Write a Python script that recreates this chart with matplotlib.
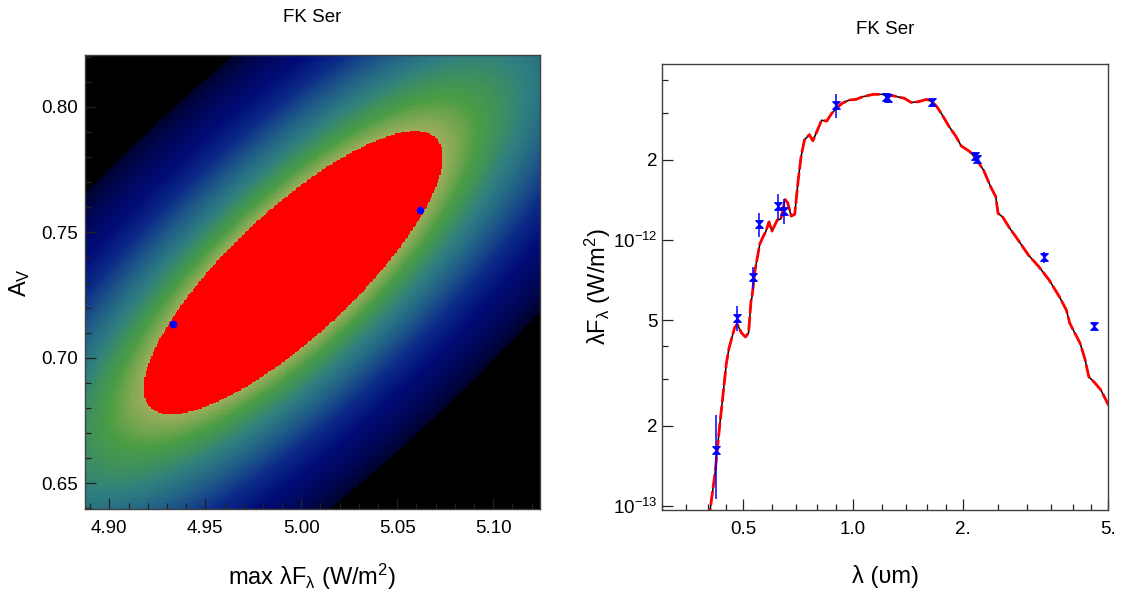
import numpy as np
import matplotlib
matplotlib.use('Agg')
import matplotlib.pyplot as plt
from matplotlib.colors import LinearSegmentedColormap, Normalize
from matplotlib.ticker import FixedLocator, FixedFormatter, NullFormatter

plt.rcParams['font.family'] = ['Liberation Sans', 'DejaVu Sans']
plt.rcParams['mathtext.fontset'] = 'custom'
plt.rcParams['mathtext.rm'] = 'Liberation Sans'
plt.rcParams['mathtext.it'] = 'Liberation Sans:italic'

# --- left panel: chi^2 surface ---
fit_center = [4.9958, 0.7339]      # best max lambda F_lambda, A_V
fit_sigma = [0.0781, 0.05655]      # 1-sigma half widths
fit_rho = 0.817                    # correlation
chi_black = 10.6                   # colour scale saturates to black here
extreme_flux = [4.933, 5.062]
extreme_av = [0.7133, 0.7588]

# --- right panel: SED ---
model_wl = [0.400, 0.406, 0.419, 0.432, 0.439, 0.450, 0.458, 0.474, 0.482, 0.495,
            0.508, 0.518, 0.526, 0.529, 0.539, 0.556, 0.566, 0.578, 0.589, 0.600,
            0.621, 0.635, 0.652, 0.663, 0.678, 0.693, 0.708, 0.721, 0.737, 0.760,
            0.777, 0.796, 0.821, 0.848, 0.873, 0.901, 0.936, 0.977, 1.021, 1.066,
            1.138, 1.215, 1.297, 1.384, 1.445, 1.509, 1.593, 1.647, 1.700, 1.758,
            1.835, 1.917, 1.980, 2.091, 2.170, 2.281, 2.383, 2.463, 2.499, 2.573,
            2.687, 2.836, 3.027, 3.232, 3.450, 3.680, 3.846, 3.930, 4.194, 4.330,
            4.430, 4.575, 4.780, 4.990, 5.050]
model_flux = [0.075, 0.0957, 0.132, 0.203, 0.248, 0.342, 0.393, 0.467, 0.483, 0.448,
              0.432, 0.448, 0.590, 0.607, 0.765, 0.966, 1.02, 1.08, 1.17, 1.08,
              1.19, 1.20, 1.42, 1.38, 1.23, 1.25, 1.67, 2.05, 2.38, 2.49,
              2.36, 2.55, 2.82, 2.80, 2.98, 3.13, 3.27, 3.36, 3.38, 3.46,
              3.53, 3.53, 3.48, 3.41, 3.29, 3.31, 3.38, 3.31, 3.17, 2.95,
              2.67, 2.45, 2.26, 2.15, 2.03, 1.83, 1.59, 1.455, 1.26, 1.22,
              1.11, 1.00, 0.878, 0.794, 0.707, 0.612, 0.545, 0.486, 0.409, 0.354,
              0.306, 0.293, 0.273, 0.243, 0.236]
phot_wl = [0.421, 0.482, 0.532, 0.554, 0.625, 0.648, 0.9015, 1.235, 1.25, 1.647,
           2.163, 2.19, 3.34, 4.59]
phot_flux = [0.163, 0.508, 0.724, 1.149, 1.346, 1.289, 3.217, 3.46, 3.41, 3.29,
             2.075, 2.016, 0.861, 0.475]
phot_err = [0.057, 0.055, 0.07, 0.12, 0.145, 0.14, 0.33, 0.06, 0.06, 0.06,
            0.06, 0.05, 0.04, 0.015]
unit = 1e-12

xtick_left = [4.90, 4.95, 5.00, 5.05, 5.10]
ytick_left = [0.65, 0.70, 0.75, 0.80]
xtick_right = [0.5, 1.0, 2.0, 5.0]
xtick_right_lab = ['0.5', '1.0', '2.', '5.']
xminor_right = [0.3, 0.35, 0.4, 0.45, 0.6, 0.7, 0.8, 0.9, 1.2, 1.4, 1.6, 1.8,
                2.5, 3.0, 3.5, 4.0, 4.5]
ytick_right = [1e-13, 2e-13, 5e-13, 1e-12, 2e-12]
ytick_right_lab = [r'$\mathregular{10^{-13}}$', '2', '5', r'$\mathregular{10^{-12}}$', '2']
yminor_right = [3e-13, 4e-13, 3e-12, 4e-12]

W, H = 1121, 592
fig = plt.figure(figsize=(W / 100, H / 100), dpi=100)

def box(x0, y0, x1, y1):
    return [x0 / W, 1 - y1 / H, (x1 - x0) / W, (y1 - y0) / H]

ax1 = fig.add_axes(box(85, 55, 540, 509))
ax2 = fig.add_axes(box(662, 64, 1108, 510))

# chi^2 surface
xlim1 = (4.8873, 5.1244)
ylim1 = (0.6398, 0.8206)
gx = np.linspace(xlim1[0], xlim1[1], 330)
gy = np.linspace(ylim1[0], ylim1[1], 330)
X, Y = np.meshgrid(gx, gy)
u = (X - fit_center[0]) / fit_sigma[0]
v = (Y - fit_center[1]) / fit_sigma[1]
chi = (u**2 - 2 * fit_rho * u * v + v**2) / (1 - fit_rho**2)

stops = [(1.0, '#9aad5a'), (1.5, '#4a9d44'), (2.4, '#2f8080'), (3.5, '#1f5a88'),
         (4.8, '#0c2c88'), (6.5, '#000c78'), (9.0, '#000650'), (chi_black, '#00022a')]
cmap = LinearSegmentedColormap.from_list(
    'chi', [((c - 1.0) / (chi_black - 1.0), col) for c, col in stops])
cmap.set_under('#ff0000')
cmap.set_over('black')
ax1.imshow(chi, extent=[xlim1[0], xlim1[1], ylim1[0], ylim1[1]], origin='lower',
           aspect='auto', cmap=cmap, norm=Normalize(1.0, chi_black), interpolation='nearest')
ax1.plot(extreme_flux, extreme_av, 'o', color='#0000ff', ms=5.5, mec='none')
ax1.set_xlim(xlim1)
ax1.set_ylim(ylim1)
ax1.set_xticks(xtick_left)
ax1.set_xticklabels(['%.2f' % t for t in xtick_left])
ax1.set_yticks(ytick_left)
ax1.set_yticklabels(['%.2f' % t for t in ytick_left])
ax1.xaxis.set_minor_locator(FixedLocator(np.arange(4.89, 5.125, 0.01)))
ax1.yaxis.set_minor_locator(FixedLocator(np.arange(0.64, 0.821, 0.01)))

# SED: thin black model under a dashed red one
ax2.plot(model_wl, np.array(model_flux) * unit, color='black', lw=1.1)
ax2.plot(model_wl, np.array(model_flux) * unit, color='#ff0000', lw=2.0,
         dashes=(5, 1.2))
hour = [(-1, 1), (1, 1), (-1, -1), (1, -1), (-1, 1)]
ax2.errorbar(phot_wl, np.array(phot_flux) * unit, yerr=np.array(phot_err) * unit,
             fmt='none', ecolor='#0000ff', elinewidth=1.1)
ax2.plot(phot_wl, np.array(phot_flux) * unit, linestyle='none', marker=hour,
         color='#0000ff', ms=5.5, mec='#0000ff', mew=0.8)
ax2.set_xscale('log')
ax2.set_yscale('log')
ax2.set_xlim(0.3, 5.0)
ax2.set_ylim(0.966e-13, 4.59e-12)
ax2.xaxis.set_major_locator(FixedLocator(xtick_right))
ax2.xaxis.set_major_formatter(FixedFormatter(xtick_right_lab))
ax2.xaxis.set_minor_locator(FixedLocator(xminor_right))
ax2.xaxis.set_minor_formatter(NullFormatter())
ax2.yaxis.set_major_locator(FixedLocator(ytick_right))
ax2.yaxis.set_major_formatter(FixedFormatter(ytick_right_lab))
ax2.yaxis.set_minor_locator(FixedLocator(yminor_right))
ax2.yaxis.set_minor_formatter(NullFormatter())

for ax in (ax1, ax2):
    ax.tick_params(which='both', direction='in', top=False, right=False,
                   labelsize=13.5, color='#222222', width=0.9)
    ax.tick_params(which='major', length=8)
    ax.tick_params(which='minor', length=4)
    ax.tick_params(axis='x', pad=8)
    ax.tick_params(axis='y', pad=5)
    for s in ax.spines.values():
        s.set_color('#404040')
        s.set_linewidth(1.0)
ax2.tick_params(axis='y', pad=3)

fig.text(312 / W, 1 - 18 / H, 'FK Ser', ha='center', va='center', fontsize=13.5)
fig.text(885 / W, 1 - 30 / H, 'FK Ser', ha='center', va='center', fontsize=13.5)
fig.text(312 / W, 1 - 577 / H, r'max λF$_\mathregular{λ}$ (W/m$^\mathregular{2}$)',
         ha='center', va='center', fontsize=17)
fig.text(20 / W, 1 - 283 / H, r'A$_\mathregular{V}$', ha='center', va='center',
         rotation=90, fontsize=17)
fig.text(885 / W, 1 - 577 / H, 'λ (υm)', ha='center', va='center', fontsize=17)
fig.text(598 / W, 1 - 287 / H, r'λF$_\mathregular{λ}$ (W/m$^\mathregular{2}$)',
         ha='center', va='center', rotation=90, fontsize=17)

fig.savefig('out.png', dpi=100)
